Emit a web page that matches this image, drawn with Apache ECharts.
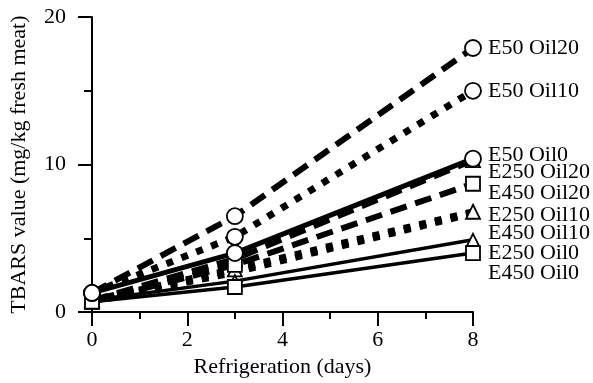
<!DOCTYPE html>
<html>
<head>
<meta charset="utf-8">
<script src="https://cdn.jsdelivr.net/npm/echarts@6/dist/echarts.min.js"></script>
<style>html,body{margin:0;padding:0;background:#fff;}#c{width:593px;height:383px;}</style>
</head>
<body>
<div id="c"></div>
<script>
// ---- data ----
const days = [0, 3, 8];
const seriesNames = ['E50 Oil20','E50 Oil10','E50 Oil0','E250 Oil20','E450 Oil20','E250 Oil10','E450 Oil10','E250 Oil0','E450 Oil0'];
const e50Oil20  = [1.3, 6.5, 17.9];
const e50Oil10  = [1.3, 5.1, 15.0];
const e50Oil0   = [1.3, 4.0, 10.4];
const e250Oil20 = [0.8, 3.6, 10.3];
const e450Oil20 = [0.7, 3.2, 8.7];
const e250Oil10 = [0.8, 2.9, 6.8];
const e450Oil10 = [0.7, 2.7, 6.7];
const e250Oil0  = [0.8, 2.1, 4.9];
const e450Oil0  = [0.7, 1.7, 4.0];
const xTicks = [0, 2, 4, 6, 8];
const yTicks = [0, 10, 20];

// ---- styles ----
const values = [e50Oil20, e50Oil10, e50Oil0, e250Oil20, e450Oil20, e250Oil10, e450Oil10, e250Oil0, e450Oil0];
const DASH = [17, 9], DOT = [7, 9];
const styles = [
  {type: DASH, width: 6, symbol: 'circle', size: 16, dy: 0},
  {type: DOT,  width: 7, symbol: 'circle', size: 16, dy: 0},
  {type: 'solid', width: 5, symbol: 'circle', size: 16, dy: -3},
  {type: DASH, width: 6, symbol: 'triangle', size: 14, dy: 12},
  {type: DASH, width: 6, symbol: 'rect', size: 14, dy: 9},
  {type: DOT,  width: 7, symbol: 'triangle', size: 14, dy: 3},
  {type: DOT,  width: 7, symbol: 'none', size: 14, dy: 20},
  {type: 'solid', width: 3.5, symbol: 'triangle', size: 12, dy: 13},
  {type: 'solid', width: 3.5, symbol: 'rect', size: 14, dy: 20}
];
const FONT = '"Liberation Serif", "Times New Roman", serif';
const FS = 22;

const series = [];
values.forEach((v, i) => {
  const s = styles[i];
  series.push({
    name: seriesNames[i], type: 'line', symbol: 'none', z: 2,
    data: days.map((d, k) => [d, v[k]]),
    lineStyle: {color: '#000', width: s.width, type: s.type, cap: 'butt'},
    endLabel: {show: true, formatter: seriesNames[i], color: '#000', fontFamily: FONT, fontSize: FS,
               distance: 15, offset: [0, s.dy]},
    animation: false, silent: true
  });
});
// markers on top: triangles, then squares, then circles
['triangle', 'rect', 'circle'].forEach(sym => {
  values.forEach((v, i) => {
    const s = styles[i];
    if (s.symbol !== sym) return;
    series.push({
      type: 'scatter', z: 5, symbol: sym, symbolSize: s.size,
      data: days.map((d, k) => [d, v[k]]),
      itemStyle: {color: '#fff', borderColor: '#000', borderWidth: 1.8, opacity: 1},
      animation: false, silent: true
    });
  });
});

const chart = echarts.init(document.getElementById('c'), null, {renderer: 'canvas'});
chart.setOption({
  backgroundColor: '#fff',
  animation: false,
  grid: {left: 91, right: 120, top: 17, bottom: 65, containLabel: false},
  xAxis: {
    type: 'value', min: 0, max: 8, interval: 2,
    name: 'Refrigeration (days)', nameLocation: 'middle', nameGap: 43,
    nameTextStyle: {fontFamily: FONT, fontSize: FS, color: '#000'},
    axisLine: {show: true, onZero: false, lineStyle: {color: '#000', width: 2}},
    axisTick: {show: true, inside: false, length: 14, lineStyle: {color: '#000', width: 2}},
    minorTick: {show: true, splitNumber: 2, length: 7, lineStyle: {color: '#000', width: 2}},
    axisLabel: {color: '#000', fontFamily: FONT, fontSize: FS, margin: 17,
                formatter: v => xTicks.includes(v) ? String(v) : ''},
    splitLine: {show: false}
  },
  yAxis: {
    type: 'value', min: 0, max: 20, interval: 10,
    name: 'TBARS value (mg/kg fresh meat)', nameLocation: 'middle', nameGap: 62,
    nameTextStyle: {fontFamily: FONT, fontSize: FS, color: '#000'},
    axisLine: {show: true, lineStyle: {color: '#000', width: 2}},
    axisTick: {show: true, inside: false, length: 14, lineStyle: {color: '#000', width: 2}},
    minorTick: {show: true, splitNumber: 2, length: 8, lineStyle: {color: '#000', width: 2}},
    axisLabel: {color: '#000', fontFamily: FONT, fontSize: FS, margin: 26,
                formatter: v => yTicks.includes(v) ? String(v) : ''},
    splitLine: {show: false}
  },
  series: series
});
</script>
</body>
</html>
